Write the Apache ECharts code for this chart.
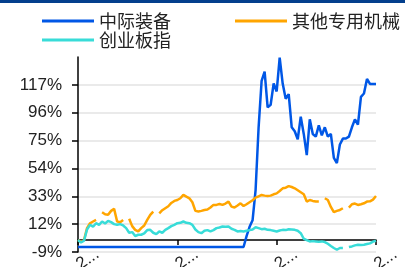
<!DOCTYPE html>
<html>
<head>
<meta charset="utf-8">
<script src="https://cdn.jsdelivr.net/npm/echarts@6/dist/echarts.min.js"></script>
<style>
  html, body { margin: 0; padding: 0; background: #fff; }
  #chart { width: 405px; height: 267px; }
</style>
</head>
<body>
<div id="chart"></div>
<script>
// 周度日期（类目轴）
var dates = [];
var d0 = new Date(2019, 0, 4);
for (var k = 0; k < 100; k++) {
    var d = new Date(d0.getTime() + k * 7 * 86400000);
    var mm = ('0' + (d.getMonth() + 1)).slice(-2);
    var dd = ('0' + d.getDate()).slice(-2);
    dates.push(d.getFullYear() + '-' + mm + '-' + dd);
}

// 中际装备 累计涨跌幅(%)
var zjzb = [
    -5.2,-5.2,-5.2,-5.2,-5.2,-5.2,-5.2,-5.2,-5.2,-5.2,
    -5.2,-5.2,-5.2,-5.2,-5.2,-5.2,-5.2,-5.2,-5.2,-5.2,
    -5.2,-5.2,-5.2,-5.2,-5.2,-5.2,-5.2,-5.2,-5.2,-5.2,
    -5.2,-5.2,-5.2,-5.2,-5.2,-5.2,-5.2,-5.2,-5.2,-5.2,
    -5.2,-5.2,-5.2,-5.2,-5.2,-5.2,-5.2,-5.2,-5.2,-5.2,
    -5.2,-5.2,-5.2,-5.2,-5.2,-5.2,3,10,15,37.7,
    85,120,127,100,102,118,112,137.5,118,106.5,
    110,85,82,76,93,80,64,91,80,78,
    86.5,79,85,78,80,62,58,72,76.5,76.5,
    78,85,91,87,108,110.5,121.5,117.7,117.7,117.7
];

// 其他专用机械
var qtzyjx = [
    0,-1.5,0,9,12.7,14,15.2,null,21,19.5,
    19,22,23.5,14,13.5,15.2,null,16,10.5,7.7,
    6.5,9,11,15.2,19,21.5,null,20.2,22.5,24,
    25.5,28,29.5,30.2,31.5,34,32.7,31.5,28.5,22,
    21.5,22,22.7,23,24.5,26.5,26.5,27.2,26.5,27.5,
    29,25.2,24.5,26,27.7,25.7,27,28.5,30,32,
    33,34,33.5,33.2,33.5,34.5,35.2,37,39,39.5,
    40.7,40,39,37.5,36,34.5,29,30.2,29.5,29,
    29,null,31.5,30.2,25,21,22,22.7,24,null,
    24.5,27,27.5,26.5,27,27.7,29,29.2,30.5,33.2
];

// 创业板指
var cybz = [
    0,-1.8,-0.5,8,11.5,10,12.7,11.5,14,12.5,
    14.5,13.5,12,11.5,12,11,9,5.5,6,3,
    4,4,5,7.5,7.7,5.5,4.5,6.5,5.5,7.7,
    9,10.5,11.5,12.7,13,14,13,12.7,11.5,8,
    6,5.2,7,7.5,6.5,7.5,9,9.5,10.2,10,
    10.2,8.5,7.7,6.5,6.8,6.5,7,7.5,8,9.7,
    9,8.2,8.5,7.7,7.5,7,6.5,7.2,7.7,7.5,
    8.2,8,7.7,7,5.2,1,0,-1,-0.8,-1,
    -1.2,-1,-1.5,-2.8,-4.5,-6,-7.3,-6,-6,null,
    -5.3,-4.8,-4,-3.5,-3.8,-3.5,-3,-2.5,-1.2,-0.5
];

var myChart = echarts.init(document.getElementById('chart'));

var legendText = { fontSize: 18, color: '#222', fontFamily: 'Noto Sans CJK SC' };

var option = {
    animation: false,
    graphic: [{
        type: 'rect',
        shape: { x: 0, y: 0, width: 405, height: 3 },
        style: { fill: '#033f8d' }
    }],
    legend: [{
        left: 42, top: 12, width: 363, padding: 0,
        icon: 'rect', itemWidth: 52, itemHeight: 3, itemGap: 64,
        textStyle: legendText,
        data: ['中际装备', '其他专用机械']
    }, {
        left: 42, top: 31, padding: 0,
        icon: 'rect', itemWidth: 52, itemHeight: 3,
        textStyle: legendText,
        data: ['创业板指']
    }],
    grid: { left: 78, right: 29, top: 57, bottom: 15, outerBoundsMode: 'none' },
    xAxis: {
        type: 'category',
        data: dates,
        boundaryGap: false,
        axisLine: { onZero: true, lineStyle: { color: '#000', width: 1.5 } },
        axisTick: { interval: 32, length: 5, lineStyle: { color: '#000', width: 1.5 } },
        axisLabel: {
            interval: 32, rotate: 35, align: 'left', verticalAlign: 'middle', margin: 14,
            width: 26, overflow: 'truncate',
            fontSize: 17, color: '#222', fontFamily: 'Liberation Sans'
        },
        splitLine: { show: false }
    },
    yAxis: {
        type: 'value',
        min: -9, max: 138, interval: 21,
        axisLine: { show: true, lineStyle: { color: '#000', width: 1.5 } },
        axisTick: { show: true, length: 6, lineStyle: { color: '#000', width: 1.5 } },
        axisLabel: {
            showMaxLabel: false, margin: 16,
            fontSize: 17, color: '#222', fontFamily: 'Liberation Sans',
            formatter: '{value}%'
        },
        splitLine: { show: true, showMaxLine: false, lineStyle: { color: '#e3e3e3', width: 1.5 } }
    },
    series: [{
        name: '中际装备', type: 'line', data: zjzb,
        symbol: 'none', color: '#0057e6',
        lineStyle: { width: 2.5 }
    }, {
        name: '其他专用机械', type: 'line', data: qtzyjx,
        symbol: 'none', color: '#ffa500',
        lineStyle: { width: 2.5 }
    }, {
        name: '创业板指', type: 'line', data: cybz,
        symbol: 'none', color: '#38dcd8',
        lineStyle: { width: 2.5 }
    }]
};

myChart.setOption(option);
</script>
</body>
</html>
